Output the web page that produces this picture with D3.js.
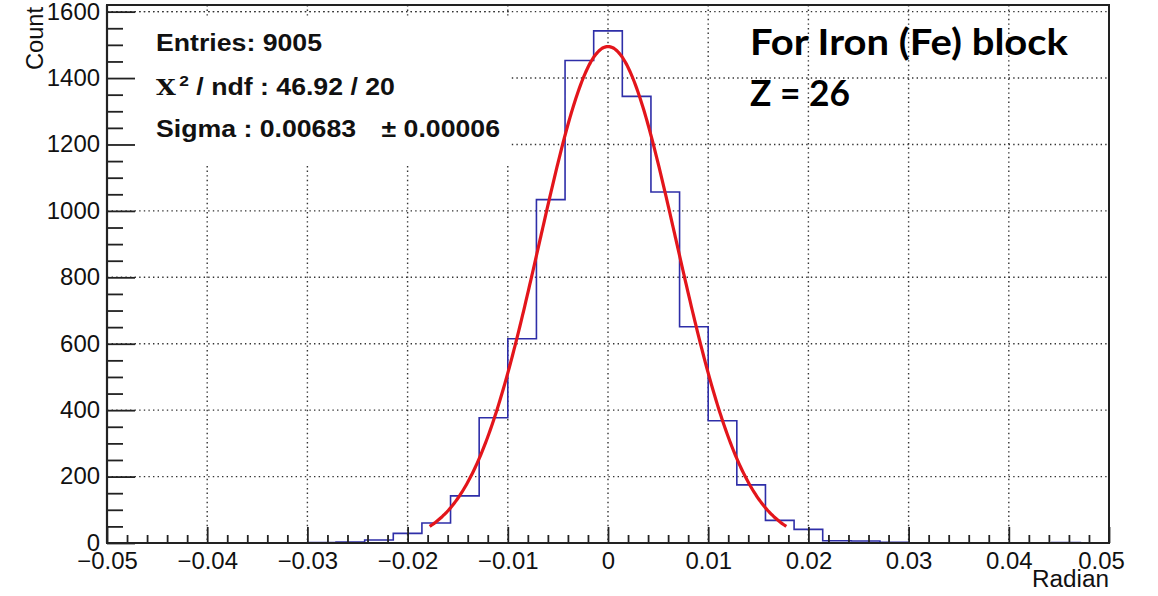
<!DOCTYPE html>
<html>
<head>
<meta charset="utf-8">
<script src="https://cdn.jsdelivr.net/npm/d3@7"></script>
<style>
  html, body { margin: 0; padding: 0; background: #fff; }
  svg { display: block; }
</style>
</head>
<body>
<svg id="chart" width="1158" height="596"></svg>
<script>
// ---------------- data ----------------
const xDomain = [-0.05, 0.05];
const nBins = 35;
const counts = [0, 0, 0, 0, 0, 0, 0, 1, 3, 9, 29, 60, 142, 377, 615, 1034, 1453, 1542,
                1345, 1057, 651, 368, 175, 68, 41, 7, 6, 2, 0, 0, 0, 0, 0, 1, 0];
const yMax = 1620;
const xTickValues = [-0.05, -0.04, -0.03, -0.02, -0.01, 0, 0.01, 0.02, 0.03, 0.04, 0.05];
const xTickLabels = ["\u22120.05", "\u22120.04", "\u22120.03", "\u22120.02", "\u22120.01", "0", "0.01", "0.02", "0.03", "0.04", "0.05"];
const yTickValues = [0, 200, 400, 600, 800, 1000, 1200, 1400, 1600];
const yTickLabels = ["0", "200", "400", "600", "800", "1000", "1200", "1400", "1600"];
// Gaussian fit parameters (from the stats box)
const fitAmp = 1495, fitMean = 0, fitSigma = 0.00683;
const fitRange = [-0.0178, 0.0178];
const statLines = ["Entries: 9005", " / ndf : 46.92 / 20", "Sigma : 0.00683", "\u00b1 0.00006"];
const noteLines = ["For Iron (Fe) block", "Z = 26"];

// ---------------- layout ----------------
const svg = d3.select("#chart");
const L = 107, R = 1109, T = 5, B = 543;
const x = d3.scaleLinear().domain(xDomain).range([L, R]);
const y = d3.scaleLinear().domain([0, yMax]).range([B, T]);
const SX = 1.04;  // horizontal stretch of the reference text
const FONT = "Liberation Sans, Arial, sans-serif";

function stretch(sel, k) {
  sel.each(function () {
    const w = this.getComputedTextLength();
    d3.select(this).attr("textLength", w * k).attr("lengthAdjust", "spacingAndGlyphs");
  });
}

// grid
const dash = "1.4,3.2";
const grid = svg.append("g").attr("stroke", "#333").attr("stroke-width", 1.4)
  .attr("stroke-dasharray", dash);
grid.selectAll(".gx").data(xTickValues.slice(1, -1)).join("line")
  .attr("x1", d => x(d)).attr("x2", d => x(d)).attr("y1", T).attr("y2", B);
grid.selectAll(".gy").data(yTickValues.slice(1)).join("line")
  .attr("y1", d => y(d)).attr("y2", d => y(d)).attr("x1", L).attr("x2", R);

// stats box (white, hides grid)
svg.append("rect").attr("x", L + 1).attr("y", 16).attr("width", 511 - L - 1).attr("height", 147)
  .attr("fill", "#fff");
svg.append("line").attr("x1", L).attr("x2", 511).attr("y1", y(1600)).attr("y2", y(1600))
  .attr("stroke", "#333").attr("stroke-width", 1.4).attr("stroke-dasharray", dash);

// histogram
const binW = (xDomain[1] - xDomain[0]) / nBins;
const pts = [[x(xDomain[0]), y(0)]];
counts.forEach((c, i) => {
  const x0 = xDomain[0] + i * binW, x1 = x0 + binW;
  pts.push([x(x0), y(c)]);
  pts.push([x(x1), y(c)]);
});
pts.push([x(xDomain[1]), y(0)]);
svg.append("path").attr("d", d3.line()(pts))
  .attr("fill", "none").attr("stroke", "#2e2ea8").attr("stroke-width", 1.6);

// fit curve
const fx = d3.range(fitRange[0], fitRange[1] + 1e-9, (fitRange[1] - fitRange[0]) / 300);
const gauss = v => fitAmp * Math.exp(-0.5 * Math.pow((v - fitMean) / fitSigma, 2));
svg.append("path").attr("d", d3.line().x(d => x(d)).y(d => y(gauss(d))).curve(d3.curveBasis)(fx))
  .attr("fill", "none").attr("stroke", "#e3151b").attr("stroke-width", 3.2);

// frame
svg.append("rect").attr("x", L).attr("y", T).attr("width", R - L).attr("height", B - T)
  .attr("fill", "none").attr("stroke", "#222").attr("stroke-width", 2);

// y axis
const yMinor = d3.range(0, 1601, 50).filter(v => v % 200 !== 0);
svg.append("g").attr("transform", `translate(${L},0)`)
  .call(d3.axisLeft(y).tickValues(yMinor).tickSizeInner(-16).tickSizeOuter(0).tickFormat(""))
  .call(g => g.select(".domain").remove())
  .call(g => g.selectAll("line").attr("stroke", "#222").attr("stroke-width", 1.8));
const yAx = svg.append("g").attr("transform", `translate(${L},0)`)
  .call(d3.axisLeft(y).tickValues(yTickValues).tickSizeInner(-28).tickSizeOuter(0).tickPadding(7)
    .tickFormat((d, i) => yTickLabels[i]))
  .call(g => g.select(".domain").remove())
  .call(g => g.selectAll("line").attr("stroke", "#222").attr("stroke-width", 1.8));
yAx.selectAll("text").attr("font-family", FONT)
  .attr("font-size", 23).attr("fill", "#111").call(stretch, SX);

// x axis
const xMinor = d3.range(0, 51).map(i => -0.05 + i * 0.002).filter((v, i) => i % 5 !== 0);
svg.append("g").attr("transform", `translate(0,${B})`)
  .call(d3.axisBottom(x).tickValues(xMinor).tickSizeInner(-8).tickSizeOuter(0).tickFormat(""))
  .call(g => g.select(".domain").remove())
  .call(g => g.selectAll("line").attr("stroke", "#222").attr("stroke-width", 1.8));
const xAx = svg.append("g").attr("transform", `translate(0,${B})`)
  .call(d3.axisBottom(x).tickValues(xTickValues).tickSizeInner(-16).tickSizeOuter(0).tickPadding(10)
    .tickFormat((d, i) => xTickLabels[i]))
  .call(g => g.select(".domain").remove())
  .call(g => g.selectAll("line").attr("stroke", "#222").attr("stroke-width", 1.8));
xAx.selectAll("text").attr("font-family", FONT)
  .attr("font-size", 23).attr("fill", "#111").call(stretch, SX);
// last label sits slightly inside, as in the reference
xAx.selectAll("text").filter((d, i) => i === xTickValues.length - 1).attr("dx", -8);

// axis lines on top
svg.append("line").attr("x1", L).attr("x2", R).attr("y1", B).attr("y2", B).attr("stroke", "#222").attr("stroke-width", 2.2);
svg.append("line").attr("x1", L).attr("x2", L).attr("y1", T).attr("y2", B).attr("stroke", "#222").attr("stroke-width", 2.2);

// axis titles
svg.append("text").attr("x", R).attr("y", 587).attr("text-anchor", "end")
  .attr("font-family", FONT).attr("font-size", 23).attr("fill", "#111")
  .text("Radian").attr("textLength", 77).attr("lengthAdjust", "spacingAndGlyphs");
svg.append("text").attr("transform", "translate(43,7) rotate(-90)").attr("text-anchor", "end")
  .attr("font-family", FONT).attr("font-size", 24).attr("fill", "#111")
  .text("Count").attr("textLength", 63).attr("lengthAdjust", "spacingAndGlyphs");

// stats text
const stat = svg.append("g").attr("font-family", FONT)
  .attr("font-weight", "bold").attr("font-size", 23).attr("fill", "#111");
stat.append("g").attr("transform", "translate(156,51) scale(1.16,1)")
  .append("text").text(statLines[0]);
const chi = stat.append("g").attr("transform", "translate(156,95) scale(1.16,1)").append("text");
chi.append("tspan").attr("font-family", "DejaVu Serif, Liberation Serif, serif").attr("font-size", 22).text("X");
chi.append("tspan").attr("font-size", 15).attr("dy", -9).attr("dx", 3).text("2");
chi.append("tspan").attr("dy", 9).text(statLines[1]);
stat.append("g").attr("transform", "translate(156,137) scale(1.16,1)")
  .append("text").text(statLines[2]);
stat.append("g").attr("transform", "translate(500,137) scale(1.16,1)")
  .append("text").attr("text-anchor", "end").text(statLines[3]);

// note text
const note = svg.append("g").attr("font-family", "Lato, Open Sans, sans-serif")
  .attr("font-weight", "bold").attr("font-size", 36).attr("fill", "#000");
note.append("text").attr("x", 750).attr("y", 55).text(noteLines[0])
  .attr("textLength", 318).attr("lengthAdjust", "spacingAndGlyphs");
note.append("text").attr("x", 750).attr("y", 106).text(noteLines[1])
  .attr("textLength", 100).attr("lengthAdjust", "spacingAndGlyphs");
</script>
</body>
</html>
